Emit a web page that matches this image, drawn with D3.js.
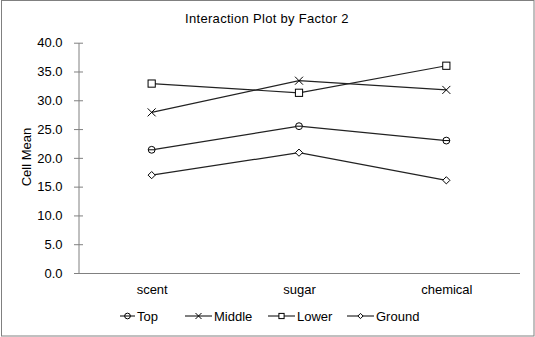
<!DOCTYPE html>
<html>
<head>
<meta charset="utf-8">
<script src="https://cdn.jsdelivr.net/npm/d3@7"></script>
<style>
  body { margin: 0; background: #fff; }
  svg { display: block; font-family: "Liberation Sans", Arial, sans-serif; }
</style>
</head>
<body>
<div id="chart"></div>
<script>
// categories of factor 1 and the four levels of factor 2
const categories = ["scent", "sugar", "chemical"];
const seriesNames = ["Top", "Middle", "Lower", "Ground"];
const topValues = [21.4, 25.5, 23.0];
const middleValues = [27.9, 33.4, 31.8];
const lowerValues = [32.9, 31.3, 36.0];
const groundValues = [17.0, 20.9, 16.1];
const yTicks = [0, 5, 10, 15, 20, 25, 30, 35, 40];
const markers = ["circle", "cross", "square", "diamond"];

const width = 535, height = 337;
const plot = { left: 78, right: 520, top: 42.7, bottom: 273 };

const svg = d3.select("#chart").append("svg")
    .attr("width", width)
    .attr("height", height);

// outer frame
svg.append("rect")
    .attr("x", 1.5).attr("y", 0.5)
    .attr("width", 532.5).attr("height", 335.5)
    .attr("fill", "#fff")
    .attr("stroke", "#808080")
    .attr("stroke-width", 1);

svg.append("text")
    .attr("x", 267).attr("y", 23)
    .attr("text-anchor", "middle")
    .attr("font-size", "13px")
    .attr("letter-spacing", "0.3px")
    .attr("fill", "#000")
    .text("Interaction Plot by Factor 2");

const x = d3.scalePoint()
    .domain(categories)
    .range([plot.left, plot.right])
    .padding(0.5);

const y = d3.scaleLinear()
    .domain([0, 40])
    .range([plot.bottom, plot.top]);

// y axis
const yAxis = svg.append("g")
    .attr("transform", `translate(${plot.left + 0.5},0)`)
    .call(d3.axisLeft(y).tickValues(yTicks).tickFormat(d3.format(".1f")).tickSize(4.5).tickSizeOuter(0));
yAxis.select(".domain").attr("stroke", "#808080");
yAxis.selectAll(".tick line")
    .attr("stroke", "#808080")
    .attr("x1", 4.5)
    .attr("x2", -4.5);
yAxis.selectAll(".tick text")
    .attr("x", -16)
    .attr("font-size", "13px")
    .attr("font-family", "'Liberation Sans', Arial, sans-serif")
    .attr("fill", "#000");

// x axis (no ticks)
const xAxis = svg.append("g")
    .attr("transform", `translate(0,${plot.bottom + 0.5})`)
    .call(d3.axisBottom(x).tickSize(0).tickSizeOuter(0));
xAxis.select(".domain")
    .attr("stroke", "#808080")
    .attr("d", `M${plot.left - 4},0H${plot.right}`);
xAxis.selectAll(".tick text")
    .attr("y", 11)
    .attr("font-size", "13px")
    .attr("font-family", "'Liberation Sans', Arial, sans-serif")
    .attr("fill", "#000");

svg.append("text")
    .attr("transform", "translate(31,157) rotate(-90)")
    .attr("text-anchor", "middle")
    .attr("font-size", "13px")
    .attr("fill", "#000")
    .text("Cell Mean");

// draw a marker shape at (cx, cy)
function drawMarker(g, type, cx, cy, s) {
    if (type === "circle") {
        g.append("circle").attr("cx", cx).attr("cy", cy).attr("r", s * 0.95)
            .attr("fill", "#fff").attr("stroke", "#000");
        g.append("line").attr("x1", cx - s * 0.95).attr("x2", cx + s * 0.95)
            .attr("y1", cy).attr("y2", cy).attr("stroke", "#000");
    } else if (type === "square") {
        g.append("rect").attr("x", cx - s).attr("y", cy - s)
            .attr("width", s * 2).attr("height", s * 2)
            .attr("fill", "#fff").attr("stroke", "#000");
    } else if (type === "cross") {
        g.append("path")
            .attr("d", `M${cx - s},${cy - s}L${cx + s},${cy + s}M${cx - s},${cy + s}L${cx + s},${cy - s}`)
            .attr("stroke", "#000").attr("fill", "none");
    } else if (type === "diamond") {
        g.append("path")
            .attr("d", `M${cx},${cy - s}L${cx + s},${cy}L${cx},${cy + s}L${cx - s},${cy}Z`)
            .attr("fill", "#fff").attr("stroke", "#000");
    }
}

const allSeries = [topValues, middleValues, lowerValues, groundValues];
const line = d3.line()
    .x((d, i) => x(categories[i]))
    .y(d => y(d));

allSeries.forEach((vals, si) => {
    const g = svg.append("g");
    g.append("path")
        .datum(vals)
        .attr("d", line)
        .attr("fill", "none")
        .attr("stroke", "#222")
        .attr("stroke-width", 1.2);
    vals.forEach((v, i) => {
        const sz = markers[si] === "cross" ? 4 : 3.6;
        drawMarker(g, markers[si], x(categories[i]), y(v), sz);
    });
});

// legend
const legendX = [120, 185, 268, 347];
const legendY = 316;
seriesNames.forEach((name, i) => {
    const g = svg.append("g");
    const x0 = legendX[i];
    const len = i === 0 ? 15 : 27;
    g.append("line")
        .attr("x1", x0).attr("x2", x0 + len)
        .attr("y1", legendY).attr("y2", legendY)
        .attr("stroke", "#000");
    const sz = markers[i] === "cross" ? 3 : (markers[i] === "circle" ? 3 : 2.6);
    drawMarker(g, markers[i], x0 + len / 2, legendY, sz);
    g.append("text")
        .attr("x", x0 + len + 2)
        .attr("y", legendY + 5)
        .attr("font-size", "13px")
        .attr("fill", "#000")
        .text(name);
});
</script>
</body>
</html>
